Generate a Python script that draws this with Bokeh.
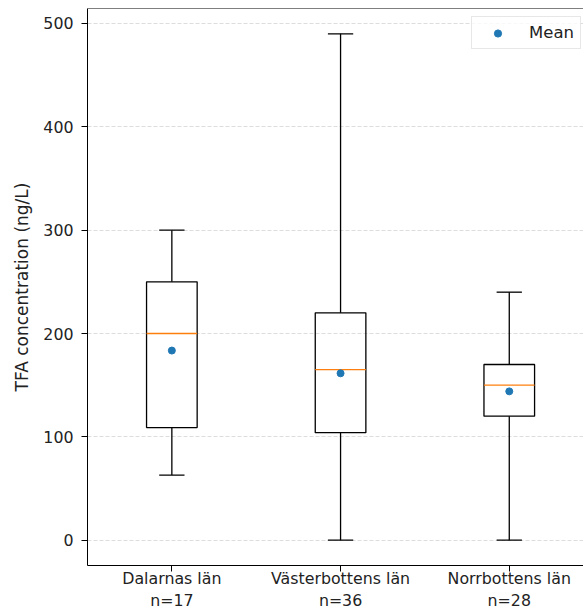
from bokeh.plotting import figure
from bokeh.models import ColumnDataSource, FixedTicker, Span, Legend, LegendItem
from bokeh.embed import file_html
from bokeh.resources import INLINE

regions = ["Dalarnas län", "Västerbottens län", "Norrbottens län"]
counts = [17, 36, 28]
positions = [1, 2, 3]
whisker_low = [63, 0, 0]
q1 = [109, 104, 120]
median = [200, 165, 150]
q3 = [250, 220, 170]
whisker_high = [300, 490, 240]
mean = [183.5, 161.5, 144]
y_ticks = [0, 100, 200, 300, 400, 500]

box_w = 0.3
cap_w = 0.15
FONT = "DejaVu Sans"

src = ColumnDataSource(dict(
    x=positions,
    left=[p - box_w / 2 for p in positions],
    right=[p + box_w / 2 for p in positions],
    cl=[p - cap_w / 2 for p in positions],
    cr=[p + cap_w / 2 for p in positions],
    lo=whisker_low, q1=q1, med=median, q3=q3, hi=whisker_high, mean=mean,
))

p = figure(width=583, height=613, output_backend="svg", toolbar_location=None,
           x_range=(0.5, 3.44), y_range=(-24.5, 514.5),
           min_border_left=87, min_border_right=0, min_border_top=8,
           min_border_bottom=48)
p.outline_line_color = None
p.background_fill_color = "white"
p.border_fill_color = "white"

# grid
p.xgrid.visible = False
p.ygrid.ticker = FixedTicker(ticks=y_ticks)
p.ygrid.grid_line_color = "#d4d4d4"
p.ygrid.grid_line_dash = "4 2"
p.ygrid.grid_line_width = 0.8

# boxes
p.quad(left="left", right="right", bottom="q1", top="q3", source=src,
       fill_color=None, line_color="black", line_width=1.3)
p.segment(x0="left", x1="right", y0="med", y1="med", source=src,
          line_color="#ff7f0e", line_width=1.4)
p.segment(x0="x", x1="x", y0="q3", y1="hi", source=src,
          line_color="black", line_width=1.3)
p.segment(x0="x", x1="x", y0="lo", y1="q1", source=src,
          line_color="black", line_width=1.3)
p.segment(x0="cl", x1="cr", y0="hi", y1="hi", source=src,
          line_color="black", line_width=1.3)
p.segment(x0="cl", x1="cr", y0="lo", y1="lo", source=src,
          line_color="black", line_width=1.3)
mean_r = p.scatter(x="x", y="mean", source=src, size=7, marker="circle",
                   fill_color="#1f77b4", line_color="#1f77b4")

# top border
p.add_layout(Span(location=514.5, dimension="width", line_color="black",
                  line_width=1))

# axes
p.yaxis.ticker = FixedTicker(ticks=y_ticks)
p.xaxis.ticker = FixedTicker(ticks=positions)
p.xaxis.major_label_overrides = {pos: f"{r}\nn={n}" for pos, r, n in zip(positions, regions, counts)}
for ax in (p.xaxis, p.yaxis):
    ax.axis_line_color = "black"
    ax.axis_line_width = 1
    ax.major_tick_in = 0
    ax.major_tick_out = 6
    ax.major_tick_line_color = "black"
    ax.minor_tick_line_color = None
    ax.major_label_text_font = FONT
    ax.major_label_text_font_size = "15.8px"
    ax.major_label_text_color = "#222222"
p.yaxis.major_label_standoff = 8
p.xaxis.major_label_standoff = -3
p.yaxis.axis_label = "TFA concentration (ng/L)"
p.yaxis.axis_label_text_font = FONT
p.yaxis.axis_label_text_font_size = "17px"
p.yaxis.axis_label_text_font_style = "normal"
p.yaxis.axis_label_text_color = "#222222"
p.yaxis.axis_label_standoff = 8

legend = Legend(items=[LegendItem(label="Mean", renderers=[mean_r])],
                location=(384, 516), margin=0, padding=6,
                glyph_width=39, glyph_height=18, label_standoff=12,
                label_text_font=FONT, label_text_font_size="16.5px",
                label_text_color="#222222",
                border_line_color="#d0d0d0", border_line_width=1,
                background_fill_color="white", background_fill_alpha=0.8)
p.add_layout(legend)

open("out.html", "w").write(file_html(p, INLINE))
